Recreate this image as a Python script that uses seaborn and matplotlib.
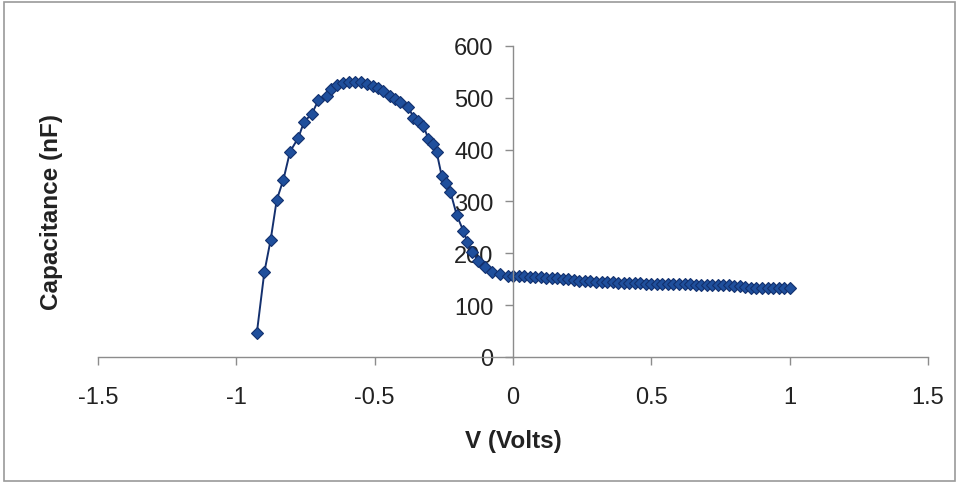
import numpy as np
import pandas as pd
import matplotlib
matplotlib.use("Agg")
import matplotlib.pyplot as plt
from matplotlib.patches import Rectangle
import seaborn as sns

# C-V sweep: gate voltage (V) and measured capacitance (nF)
voltage_neg = [-0.926, -0.899, -0.876, -0.854, -0.830, -0.806, -0.776, -0.755,
               -0.727, -0.704, -0.673, -0.658, -0.637, -0.615, -0.593, -0.571,
               -0.549, -0.527, -0.505, -0.487, -0.469, -0.445, -0.426, -0.408,
               -0.378, -0.360, -0.342, -0.324, -0.306, -0.290, -0.276, -0.258,
               -0.242, -0.226, -0.203, -0.180, -0.165, -0.149, -0.125, -0.101,
               -0.077, -0.047, -0.017]
cap_neg = [46, 163, 226, 303, 342, 396, 423, 454,
           469, 495, 504, 517, 525, 528, 530, 531,
           530, 527, 523, 519, 514, 504, 498, 492,
           482, 462, 455, 446, 421, 410, 395, 350,
           336, 318, 273, 244, 222, 202, 186, 173,
           163, 160, 157]

voltage_pos = [round(0.02 * i, 2) for i in range(51)]
cap_pos = [157, 156, 156, 155, 155, 154, 153, 153, 152, 151,
           150, 148, 147, 146, 146, 145, 145, 144, 144, 143,
           143, 142, 142, 142, 141, 141, 141, 141, 140, 140,
           141, 140, 140, 139, 139, 138, 138, 138, 138, 138,
           137, 136, 135, 134, 134, 134, 133, 133, 134, 134,
           134]

x_ticks = [-1.5, -1, -0.5, 0, 0.5, 1, 1.5]
x_tick_labels = ["-1.5", "-1", "-0.5", "0", "0.5", "1", "1.5"]
y_ticks = [0, 100, 200, 300, 400, 500, 600]

df = pd.DataFrame({"V": voltage_neg + voltage_pos,
                   "C": cap_neg + cap_pos})

sns.set_style("white")
plt.rcParams["font.family"] = ["Liberation Sans", "DejaVu Sans"]

fig = plt.figure(figsize=(9.59, 4.85), dpi=100)
ax = fig.add_axes([0.1022, 0.2619, 0.8655, 0.6412])

sns.lineplot(data=df, x="V", y="C", ax=ax, sort=False, estimator=None,
             color="#14306e", linewidth=1.4, marker="D", markersize=6.6,
             markerfacecolor="#1f4f9c", markeredgecolor="#12306e",
             markeredgewidth=0.8)

ax.set_xlim(-1.5, 1.5)
ax.set_ylim(0, 600)
ax.set_xticks(x_ticks)
ax.set_xticklabels(x_tick_labels)
ax.set_yticks(y_ticks)

# axes cross at the origin, Excel style
for side in ("top", "right"):
    ax.spines[side].set_visible(False)
ax.spines["left"].set_position(("data", 0))
ax.spines["bottom"].set_position(("data", 0))
for side in ("left", "bottom"):
    ax.spines[side].set_color("#8c8c8c")
    ax.spines[side].set_linewidth(1.0)

ax.tick_params(axis="x", bottom=True, direction="out", length=6, width=1.0,
               color="#8c8c8c", labelsize=17, labelcolor="#222222", pad=15)
ax.tick_params(axis="y", left=True, direction="out", length=6, width=1.0,
               color="#8c8c8c", labelsize=17, labelcolor="#222222", pad=8)
ax.set_xlabel("")
ax.set_ylabel("")

fig.text(0.535, 0.09, "V (Volts)", ha="center", va="center",
         fontsize=17.5, fontweight="bold", color="#222222")
fig.text(0.054, 0.563, "Capacitance (nF)", ha="center", va="center",
         rotation=90, fontsize=17.5, fontweight="bold", color="#222222")

# chart-area frame
fig.patches.append(Rectangle((0.004, 0.006), 0.992, 0.988,
                             transform=fig.transFigure, fill=False,
                             edgecolor="#9a9a9a", linewidth=1.2))

fig.savefig("out.png", dpi=100, facecolor="white")
